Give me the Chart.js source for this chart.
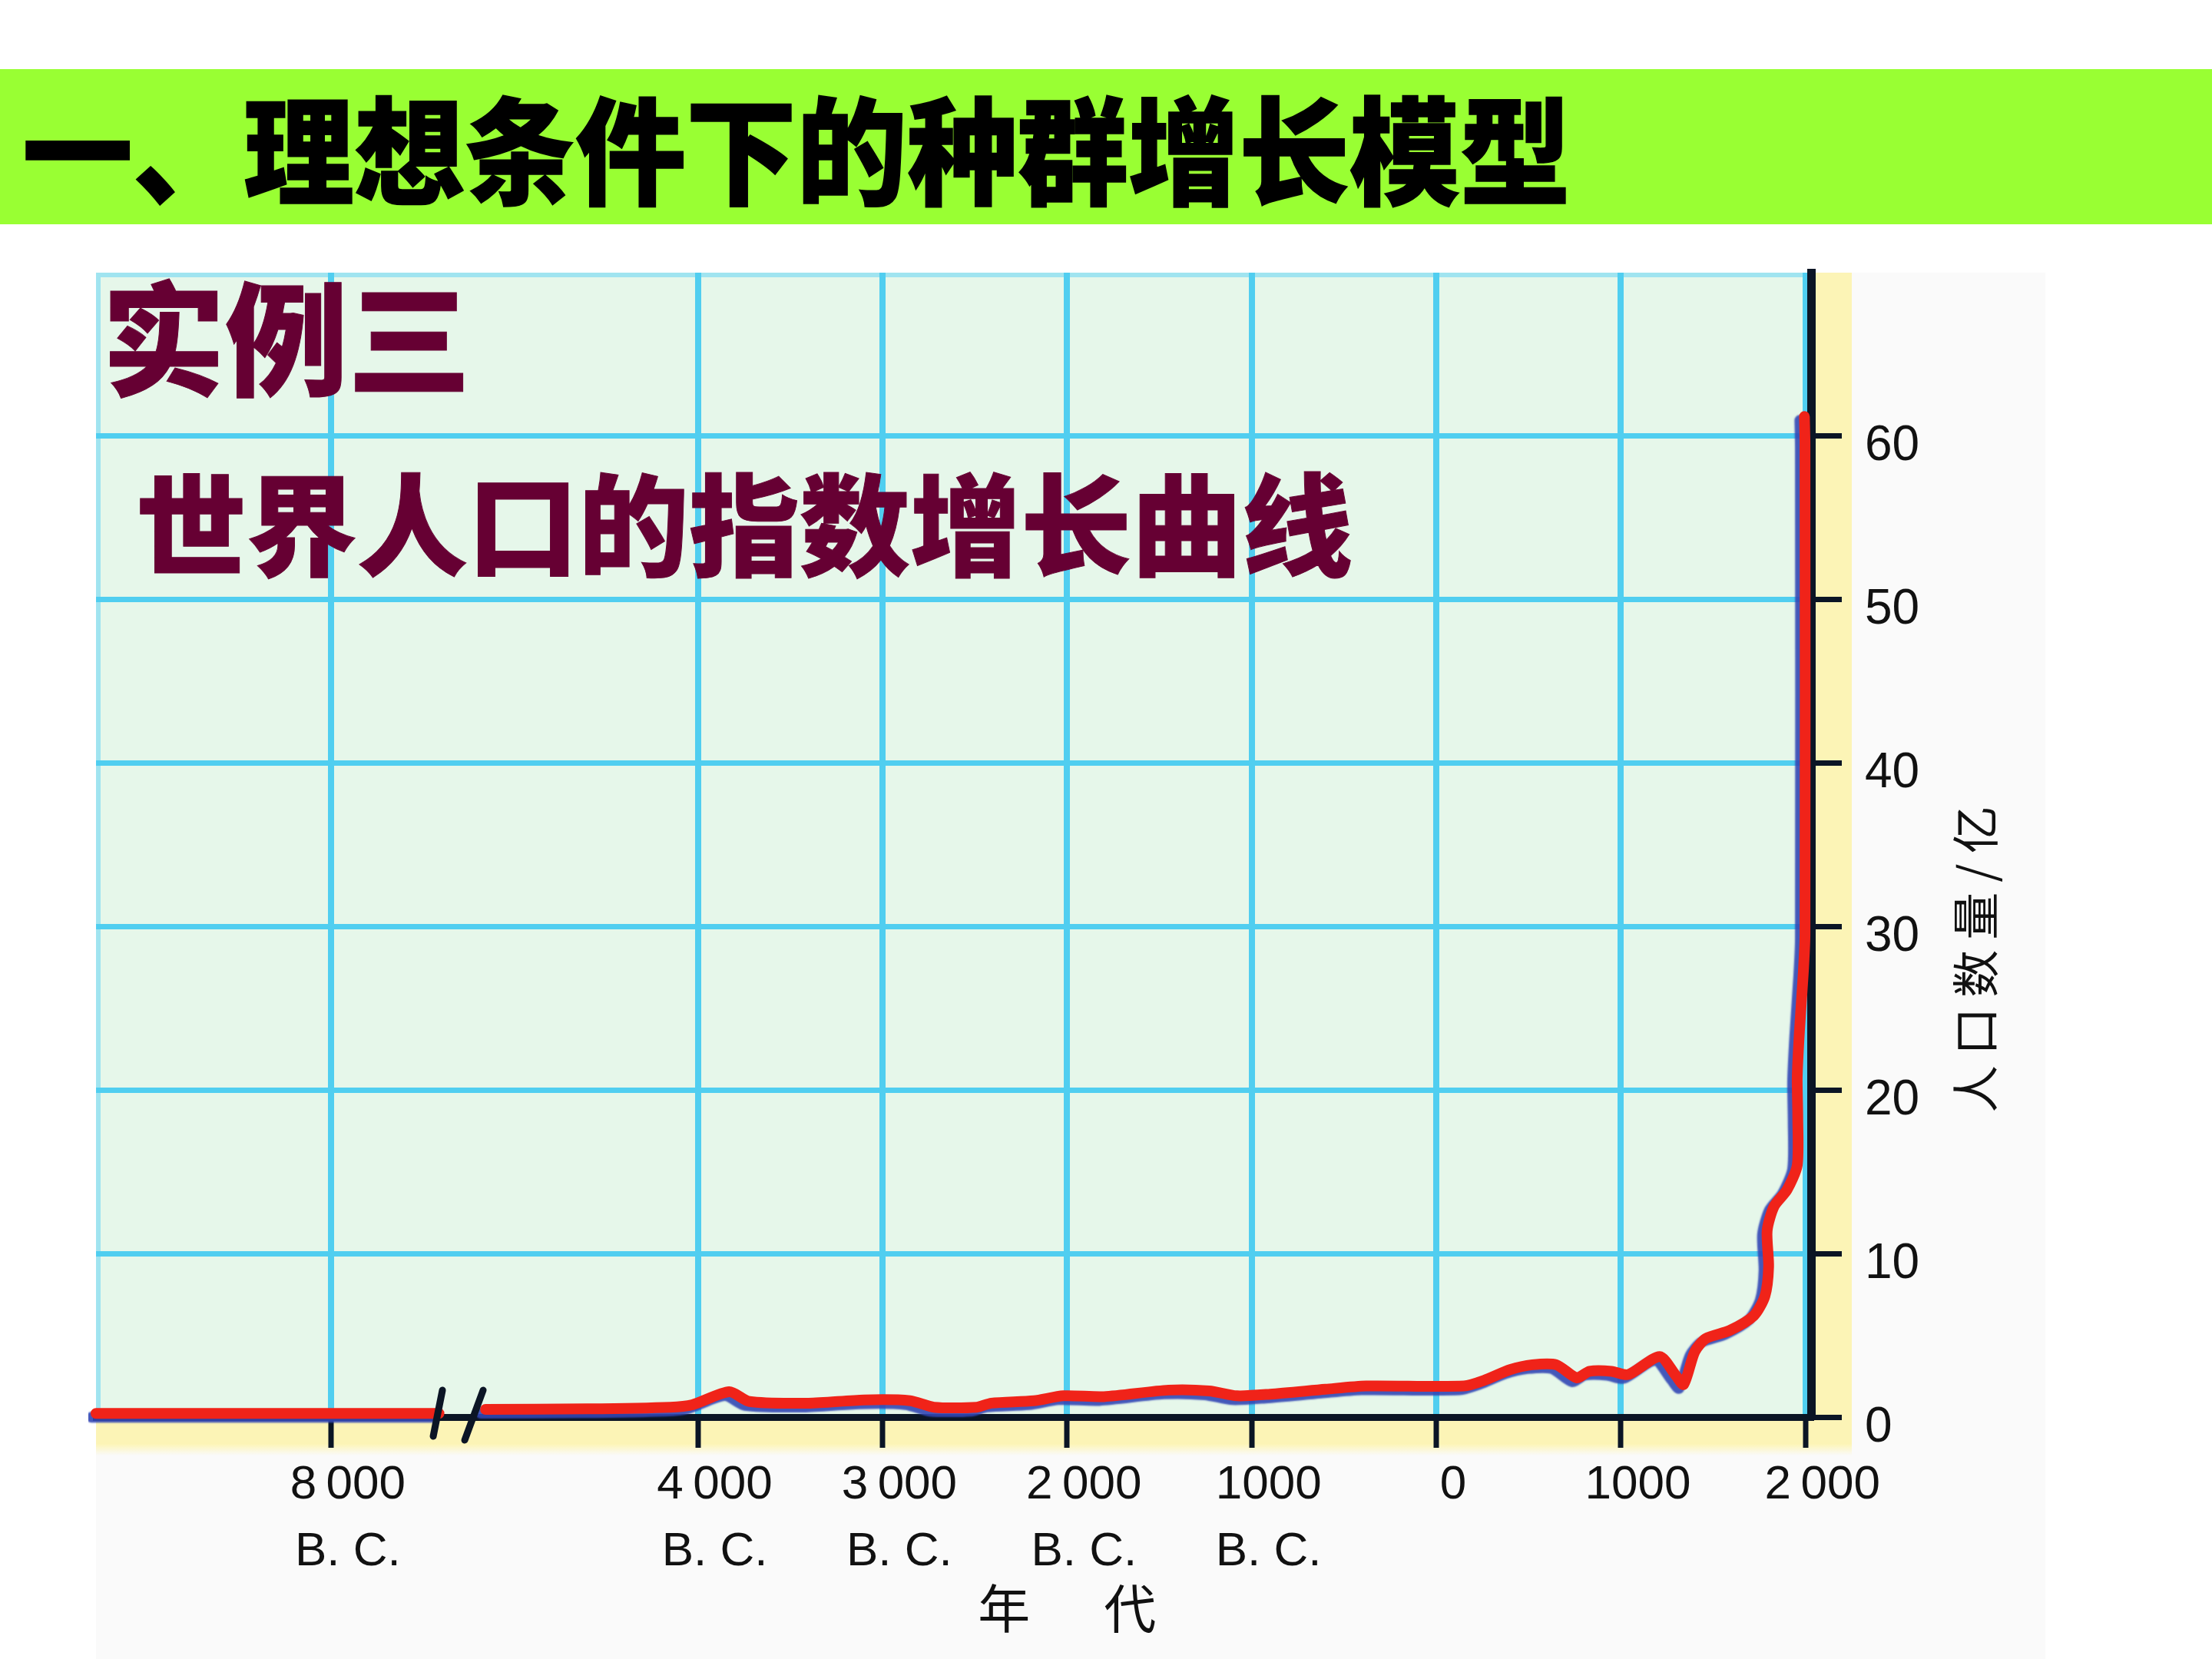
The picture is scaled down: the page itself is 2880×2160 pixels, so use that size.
<!DOCTYPE html>
<html>
<head>
<meta charset="utf-8">
<script src="https://cdn.jsdelivr.net/npm/chart.js@4.4.1/dist/chart.umd.min.js"></script>
<style>
  html, body { margin: 0; padding: 0; background: #ffffff; }
  body { width: 2880px; height: 2160px; position: relative; overflow: hidden; font-family: "Noto Sans CJK SC", sans-serif; }
  #banner { position: absolute; left: 0; top: 90px; width: 2880px; height: 202px; background: #99FF33; }
  #banner span { position: absolute; left: 29px; top: 22px; font-size: 144px; line-height: 1; font-weight: 900; color: #000; white-space: nowrap;
                 -webkit-text-stroke: 1.5px #000; transform: scaleY(1.06); transform-origin: 0 0; }
  #panel { position: absolute; left: 125px; top: 355px; width: 2538px; height: 1805px; background: #FAFAFA; }
  #c { position: absolute; left: 0; top: 0; }
  .sub { position: absolute; color: #660033; font-weight: 900; line-height: 1; white-space: nowrap; -webkit-text-stroke: 1px #660033; }
  #t1 { left: 133px; top: 353px; font-size: 160px; }
  #t2 { left: 177px; top: 604px; font-size: 144px; }
</style>
</head>
<body>
<div id="banner"><span>一、理想条件下的种群增长模型</span></div>
<div id="panel"></div>
<canvas id="c" width="2880" height="2160"></canvas>
<div class="sub" id="t1">实例三</div>
<div class="sub" id="t2">世界人口的指数增长曲线</div>
<script>
// ---- data ----
const tickYears = [-8000, -4000, -3000, -2000, -1000, 0, 1000, 2000];
const tickLabels = [["8\u2009000", "B. C."], ["4\u2009000", "B. C."], ["3\u2009000", "B. C."], ["2\u2009000", "B. C."],
                    ["1000", "B. C."], "0", "1000", "2\u2009000"];
const yTicks = [0, 10, 20, 30, 40, 50, 60];
const xTitle = "年代";
const yTitle = "人口数量/亿";
// years (negative = B.C.) and world population (亿)
const years = [-13000, -5700, -5300, -5150, -4600, -4150, -4030, -3830, -3720, -3400, -3100, -2850, -2720, -2490,
               -2410, -2180, -2020, -1800, -1450, -1230, -1080, -900, -600, -380, 150, 260, 400, 520, 650, 760,
               830, 950, 1040, 1210, 1300, 1340, 1400, 1460, 1590, 1720, 1780, 1800, 1792, 1830, 1900, 1955,
               1958, 1955, 1967, 1988, 1997, 1997, 1994];
const population = [0.22, 0.22, null, 0.47, 0.5, 0.6, 0.75, 1.55, 0.95, 0.85, 1.05, 1.0, 0.6, 0.6,
                    0.85, 1.0, 1.3, 1.25, 1.65, 1.6, 1.3, 1.4, 1.7, 1.9, 1.9, 2.25, 2.9, 3.2, 3.2, 2.4,
                    2.8, 2.8, 2.6, 3.7, 2.5, 2.0, 4.0, 4.8, 5.3, 6.2, 7.4, 9.2, 11.4, 12.9, 13.9, 15.4,
                    18.3, 20.8, 23.6, 27.2, 29.5, 59.5, 61.2];

// broken time axis: years before the break are compressed
const BREAK_YEAR = -5300;
const LEFT_COMPRESS = 0.2545;
const X_MIN_YEAR = -13000;
const X_MAX_YEAR = 2030;
function pos(y) {
  return y >= BREAK_YEAR ? y / 1000 : BREAK_YEAR / 1000 + (y - BREAK_YEAR) / 1000 * LEFT_COMPRESS;
}

const points = years.map((y, i) => ({ x: pos(y), y: population[i] }));

const deco = {
  id: 'deco',
  beforeDraw(chart) {
    const { ctx, chartArea: a } = chart;
    ctx.save();
    // yellow frame bands
    ctx.fillStyle = '#FCF4B6';
    ctx.fillRect(a.right, a.top, 53, a.bottom - a.top + 30);
    const g = ctx.createLinearGradient(0, a.bottom, 0, a.bottom + 50);
    g.addColorStop(0, '#FCF4B6'); g.addColorStop(0.7, '#FCF4B6'); g.addColorStop(1, 'rgba(252,244,182,0)');
    ctx.fillStyle = g;
    ctx.fillRect(a.left, a.bottom, a.right + 53 - a.left, 50);
    // plot background
    ctx.fillStyle = '#E6F7EA';
    ctx.fillRect(a.left, a.top, a.right - a.left, a.bottom - a.top);
    ctx.strokeStyle = 'rgb(160,228,240)';
    ctx.lineWidth = 6;
    ctx.beginPath();
    ctx.moveTo(a.left + 3, a.bottom);
    ctx.lineTo(a.left + 3, a.top + 3);
    ctx.lineTo(a.right, a.top + 3);
    ctx.stroke();
    ctx.restore();
  },
  beforeDatasetDraw(chart) {
    const ctx = chart.ctx;
    ctx.save();
    ctx.shadowColor = 'rgba(50,70,180,0.9)';
    ctx.shadowOffsetX = -6;
    ctx.shadowOffsetY = 5;
    ctx.shadowBlur = 2;
  },
  afterDatasetDraw(chart) {
    chart.ctx.restore();
  },
  afterDraw(chart) {
    const { ctx, chartArea: a, scales } = chart;
    const xs = scales.x, ys = scales.y;
    ctx.save();
    // axis break marks
    const px = xs.getPixelForValue(pos(BREAK_YEAR));
    const by = a.bottom;
    ctx.strokeStyle = '#0B1525';
    ctx.lineWidth = 9;
    ctx.lineCap = 'round';
    ctx.beginPath();
    ctx.moveTo(px - 20, by - 35); ctx.lineTo(px - 32, by + 25);
    ctx.moveTo(px + 33, by - 35); ctx.lineTo(px + 9, by + 30);
    ctx.stroke();
    // x title
    ctx.fillStyle = '#111';
    ctx.font = '68px "Noto Sans CJK SC", sans-serif';
    ctx.textBaseline = 'middle';
    ctx.textAlign = 'left';
    ctx.letterSpacing = '96px';
    let w = ctx.measureText(xTitle).width - 96;
    const cx = xs.getPixelForValue(pos(-2000));
    ctx.fillText(xTitle, cx - w / 2, a.bottom + 249);
    // y title (rotated, reading upward)
    ctx.font = '62px "Noto Sans CJK SC", sans-serif';
    ctx.letterSpacing = '13px';
    w = ctx.measureText(yTitle).width - 13;
    ctx.translate(a.right + 214, ys.getPixelForValue(28));
    ctx.rotate(-Math.PI / 2);
    ctx.fillText(yTitle, -w / 2, 0);
    ctx.restore();
  }
};

new Chart(document.getElementById('c'), {
  type: 'line',
  data: {
    datasets: [{
      data: points,
      borderColor: 'rgb(240,35,25)',
      borderWidth: 14,
      pointRadius: 0,
      tension: 0.25,
      borderJoinStyle: 'round',
      borderCapStyle: 'round',
      spanGaps: false,
      clip: 10
    }]
  },
  options: {
    responsive: false,
    animation: false,
    devicePixelRatio: 1,
    layout: { padding: { left: 125, top: 355, right: 222, bottom: 0 } },
    plugins: { legend: { display: false }, tooltip: { enabled: false } },
    scales: {
      x: {
        type: 'linear',
        position: 'bottom',
        min: pos(X_MIN_YEAR),
        max: pos(X_MAX_YEAR),
        afterBuildTicks(s) { s.ticks = tickYears.map(y => ({ value: pos(y) })); },
        afterFit(s) { s.height = 315; },
        grid: { color: 'rgb(80,206,240)', lineWidth: 8, tickColor: '#0B1525', tickWidth: 7, tickLength: 40, drawTicks: true },
        border: { display: true, color: '#0B1525', width: 9 },
        ticks: {
          autoSkip: false, maxRotation: 0, minRotation: 0, padding: 6, labelOffset: 22,
          color: '#111',
          font: { family: '"Liberation Sans", Arial, sans-serif', size: 62, lineHeight: 1.4 },
          callback: (v, i) => tickLabels[i]
        }
      },
      y: {
        type: 'linear',
        position: 'right',
        min: 0,
        max: 70,
        afterBuildTicks(s) { s.ticks = yTicks.map(v => ({ value: v })); },
        afterFit(s) { s.width = 300; },
        grid: { color: 'rgb(80,206,240)', lineWidth: 7, tickColor: '#0B1525', tickWidth: 7, tickLength: 40, drawTicks: true },
        border: { display: true, color: '#0B1525', width: 11 },
        ticks: {
          padding: 30,
          labelOffset: 14,
          color: '#111',
          font: { family: '"Liberation Sans", Arial, sans-serif', size: 64 },
          callback: v => String(v)
        }
      }
    }
  },
  plugins: [deco]
});
</script>
</body>
</html>
